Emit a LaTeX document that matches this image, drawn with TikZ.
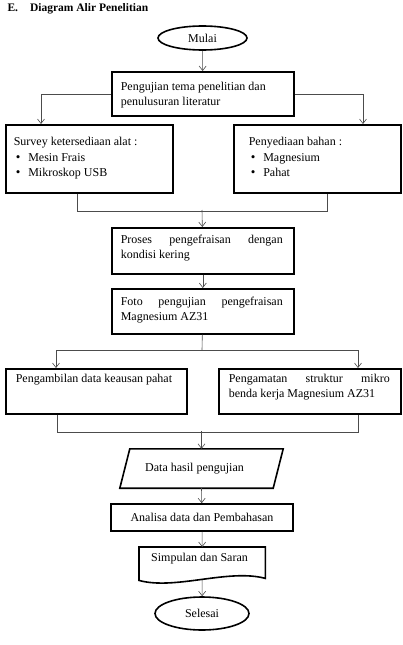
\documentclass[tikz,border=0pt]{standalone}
\usepackage{fontspec}
\setmainfont{Liberation Serif}
\usetikzlibrary{arrows.meta,shapes.geometric}
\newcommand\bxc[6]{\parbox[c][#2][t]{#1}{\vspace*{#4}\hspace*{#3}\parbox[t]{#5}{#6}}}
\newcommand\bul{\hspace*{2pt}\makebox[12.5pt][l]{\fontsize{13}{15}\selectfont\textbullet}}
\tikzset{
  procbox/.style={draw=black, line width=1.6pt, inner sep=0pt, anchor=north west},
  termbox/.style={draw=black, line width=1.6pt, ellipse, inner sep=0pt},
  conn/.style={draw=black!70, line width=0.6pt},
  arr/.style={conn, -{Straight Barb[length=4.5pt,width=7pt]}},
}
\begin{document}
\begin{tikzpicture}[x=1pt, y=-1pt, font=\fontsize{12}{15}\selectfont]
\useasboundingbox (0,0) rectangle (402,645);

\node[anchor=base west, font=\fontsize{11.5}{15}\selectfont\bfseries] (title) at (4,11) {E.\hspace{12pt}Diagram Alir Penelitian};

\node[termbox, minimum width=89pt, minimum height=24pt] (mulai) at (202.5,38) {Mulai};

\node[procbox] (uji) at (111,71) {\bxc{182pt}{44pt}{9pt}{8pt}{164pt}{\strut Pengujian tema penelitian dan\\penulusuran literatur}};

\node[procbox] (survey) at (5,124) {\bxc{167pt}{68pt}{8pt}{10pt}{155pt}{\fontsize{12}{15.5}\selectfont\strut Survey ketersediaan alat :\\
\bul Mesin Frais\\
\bul Mikroskop USB}};

\node[procbox] (bahan) at (233,124) {\bxc{167pt}{68pt}{15pt}{10pt}{148pt}{\fontsize{12}{15.5}\selectfont\strut Penyediaan bahan :\\
\bul Magnesium\\
\bul Pahat}};

\node[procbox] (proses) at (111,227) {\bxc{182pt}{46pt}{9pt}{5pt}{162pt}{\strut Proses\hfill pengefraisan\hfill dengan\\kondisi kering}};

\node[procbox] (foto) at (111,288) {\bxc{182pt}{45pt}{9pt}{6pt}{162pt}{\strut Foto\hfill pengujian\hfill pengefraisan\\Magnesium AZ31}};

\node[procbox] (ambil) at (5,368) {\bxc{181pt}{45pt}{10pt}{3pt}{168pt}{\strut Pengambilan data keausan pahat}};

\node[procbox] (amati) at (218,368) {\bxc{182pt}{45pt}{10pt}{3pt}{161pt}{\strut Pengamatan\hfill struktur\hfill mikro\\benda kerja Magnesium AZ31}};

\node[inner sep=0pt, minimum width=153pt, minimum height=39pt] (data) at (201.5,468.5) {Data hasil pengujian\hspace*{14pt}};
\draw[black, line width=1.6pt] ([xshift=-5pt]data.south west) -- ([xshift=5pt]data.north west) -- ([xshift=5pt]data.north east) -- ([xshift=-5pt]data.south east) -- cycle;

\node[draw=black, line width=1.6pt, inner sep=0pt, minimum width=182pt, minimum height=27pt] (analisa) at (202,517.5) {Analisa data dan Pembahasan};

\node[inner sep=0pt, anchor=north west] (simpul) at (139,547) {\bxc{126pt}{33pt}{12pt}{4pt}{112pt}{\strut Simpulan dan Saran}};
\draw[black, line width=1.6pt] (simpul.south west) .. controls +(36,10) and +(-37,-10) .. ([yshift=2pt]simpul.south east) -- (simpul.north east) -- (simpul.north west) -- cycle;

\node[termbox, minimum width=94pt, minimum height=33pt] (selesai) at (202,613.5) {Selesai};

\coordinate (j1) at (202,210);
\coordinate (j2) at (202,350);
\coordinate (j3) at (201.5,431);

\draw[arr] (mulai) -- (uji);
\draw[arr] (uji.west) -| ([xshift=36pt]survey.north west);
\draw[arr] (uji.east) -| ([xshift=130pt]bahan.north west);
\draw[conn] ([xshift=72pt]survey.south west) -- ++(0,18) -| ([xshift=94pt]bahan.south west);
\draw[arr] (j1) -- (proses);
\draw[arr] (proses) -- (foto);
\draw[conn] (foto) -- (j2);
\draw[arr] (j2) -| ([xshift=51pt]ambil.north west);
\draw[arr] (j2) -| ([xshift=140pt]amati.north west);
\draw[conn] ([xshift=52pt]ambil.south west) -- ++(0,18) -| ([xshift=140pt]amati.south west);
\draw[arr] (j3) -- (data.north);
\draw[arr] (data.south) -- (analisa);
\draw[arr] (analisa) -- (simpul.north);
\draw[arr] (simpul.south) -- (selesai);
\end{tikzpicture}
\end{document}
